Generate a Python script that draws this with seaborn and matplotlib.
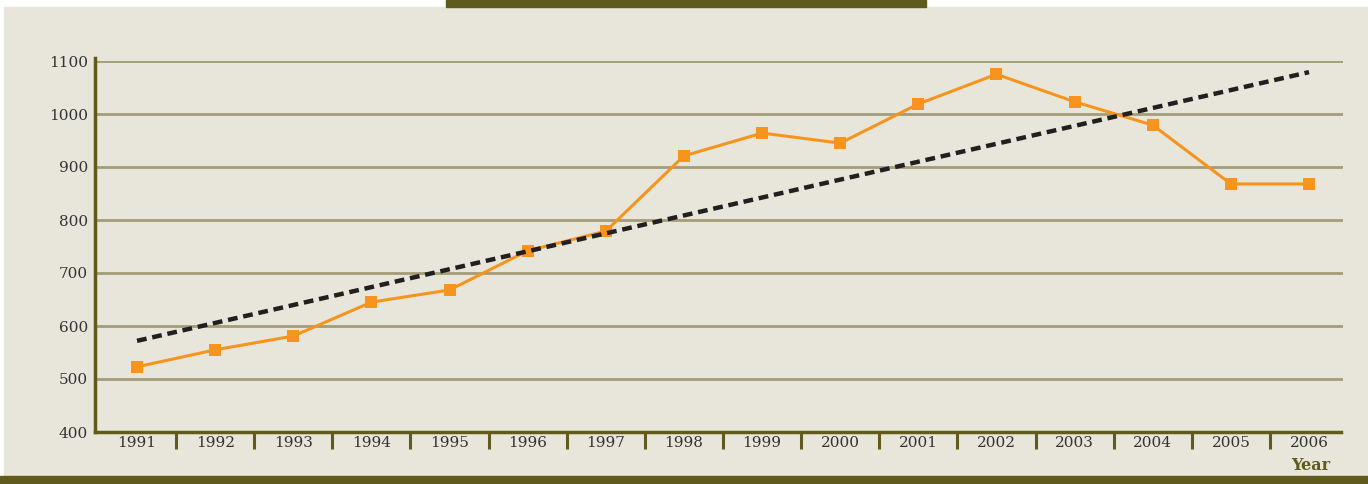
import numpy as np
import pandas as pd
import seaborn as sns
import matplotlib.pyplot as plt
from matplotlib.patches import Rectangle

# data
years = [1991, 1992, 1993, 1994, 1995, 1996, 1997, 1998,
         1999, 2000, 2001, 2002, 2003, 2004, 2005, 2006]
values = [523, 555, 581, 645, 668, 742, 779, 921,
          964, 945, 1019, 1075, 1023, 979, 868, 868]
trend_years = [1991, 2006]
trend_values = [572, 1079]
y_ticks = [400, 500, 600, 700, 800, 900, 1000, 1100]

panel_col = '#E8E6DA'
olive = '#615A1D'
grid_col = '#A39D78'
orange = '#F7941D'
dark = '#231F20'

sns.set_theme(style='white')
plt.rcParams['font.family'] = ['DejaVu Serif', 'Liberation Serif']

df = pd.DataFrame({'Year': years, 'Value': values})
trend = pd.DataFrame({'Year': trend_years, 'Value': trend_values})

fig = plt.figure(figsize=(13.68, 4.84), dpi=100, facecolor='white')

# background panel and decorative bands (behind the axes)
W, H = 1368, 484
fig.patches.append(Rectangle((4 / W, 8 / H), 1 - 4 / W, (476 - 7) / H,
                             transform=fig.transFigure, color=panel_col, zorder=-2))
fig.patches.append(Rectangle((0, 0), 1, 8 / H, transform=fig.transFigure,
                             color=olive, zorder=-2))
fig.patches.append(Rectangle((446 / W, 1 - 7 / H), 480 / W, 7 / H,
                             transform=fig.transFigure, color=olive, zorder=-2))

ax = fig.add_axes([95 / W, 1 - 432 / H, (1343 - 95) / W, (432 - 61) / H])
ax.set_facecolor('none')

ax.set_ylim(400, 1100)
ax.set_xlim(1990.462, 2006.435)
ax.set_yticks(y_ticks)
ax.set_xticks(years)
ax.set_xticks([y + 0.5 for y in years[:-1]], minor=True)

for y in y_ticks[1:]:
    ax.axhline(y, color=grid_col, lw=2, zorder=1)

sns.lineplot(data=df, x='Year', y='Value', ax=ax, color=orange, lw=2.2,
             marker='s', markersize=9, markeredgewidth=0, zorder=3)
sns.lineplot(data=trend, x='Year', y='Value', ax=ax, color=dark, lw=3.2,
             zorder=4, linestyle=(0, (2.2, 1.3)))

for side in ['top', 'right']:
    ax.spines[side].set_visible(False)
for side in ['left', 'bottom']:
    ax.spines[side].set_color(olive)
    ax.spines[side].set_linewidth(2.5)
ax.spines['left'].set_bounds(400, 1106)
ax.spines['bottom'].set_bounds(1990.462, 2006.41)

ax.tick_params(axis='y', length=0, pad=5, labelsize=11, labelcolor='#333333')
ax.tick_params(axis='x', which='major', length=0, pad=3, labelsize=11,
               labelcolor='#333333')
ax.tick_params(axis='x', which='minor', length=12, width=2.2, color=olive,
               direction='out', bottom=True)
ax.set_xlabel('')
ax.set_ylabel('')
ax.grid(False)

fig.text(1311 / W, 1 - 465 / H, 'Year', ha='center', va='center',
         fontsize=11.5, fontweight='bold', color=olive)

fig.savefig('out.png', dpi=100, facecolor='white')
